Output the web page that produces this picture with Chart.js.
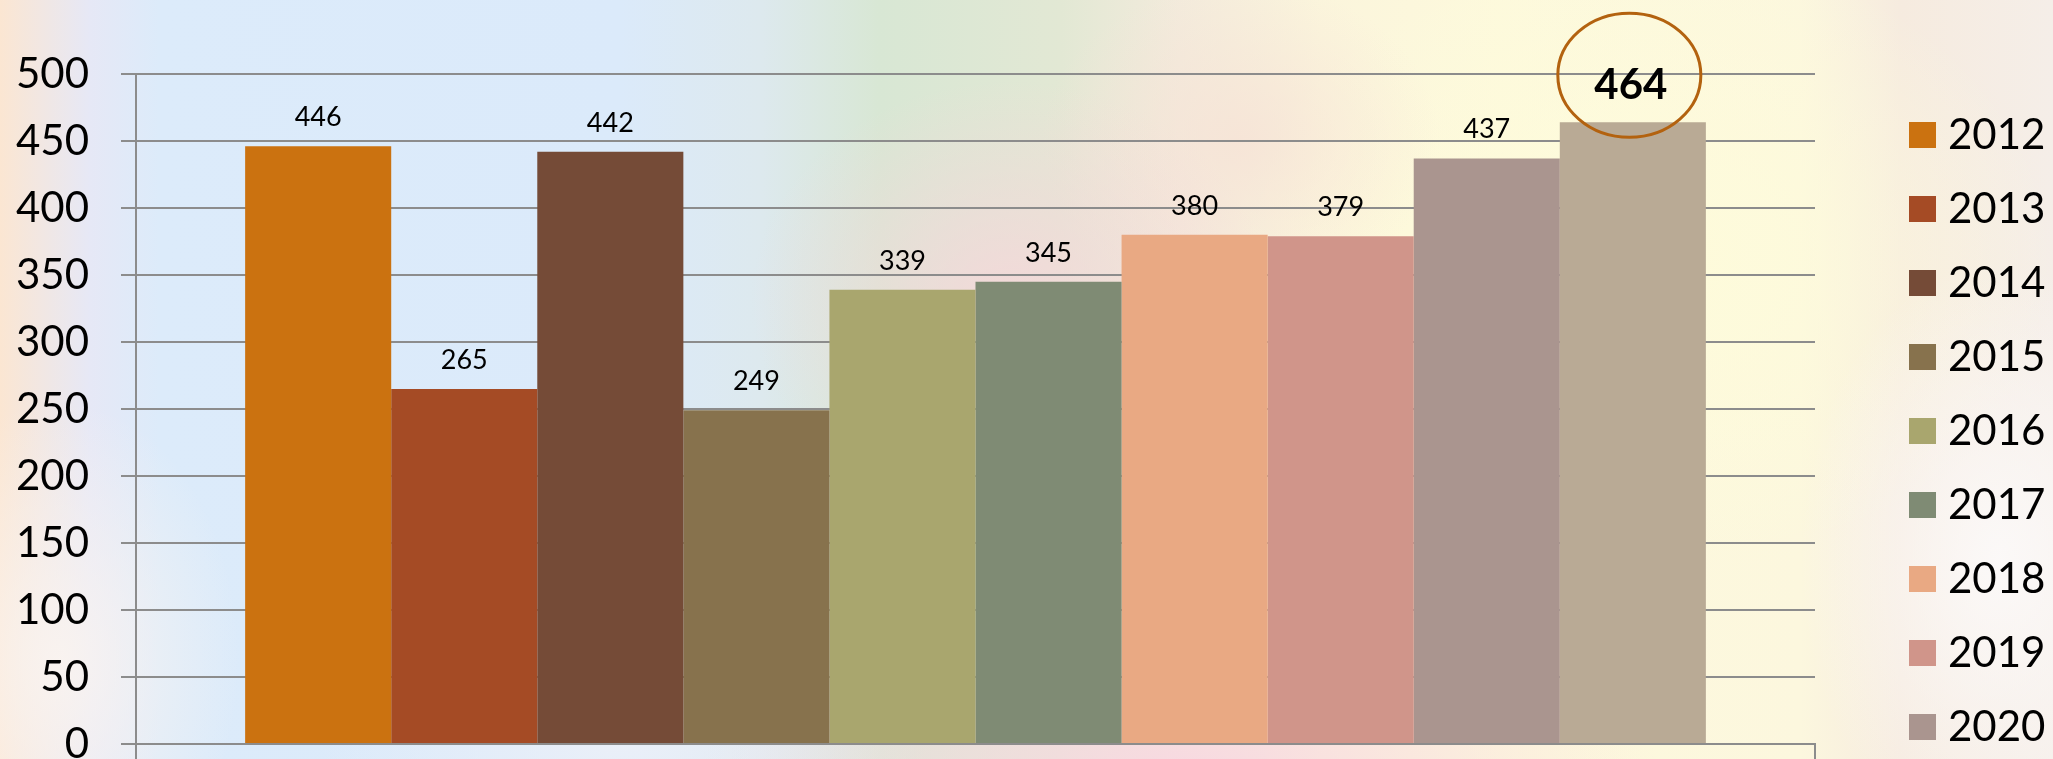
<!DOCTYPE html>
<html>
<head>
<meta charset="utf-8">
<script src="https://cdn.jsdelivr.net/npm/chart.js@4.4.1/dist/chart.umd.min.js"></script>
<style>
  html, body { margin: 0; padding: 0; width: 2053px; height: 759px; overflow: hidden; }
  body {
    position: relative;
    background-color: #f3efe9;
    background-image:
      radial-gradient(ellipse 480px 150px at 1180px 770px, rgba(248,216,225,0.95), rgba(248,216,225,0) 100%),
      radial-gradient(ellipse 260px 220px at 1010px 300px, rgba(246,214,218,0.85), rgba(246,214,218,0) 100%),
      radial-gradient(ellipse 200px 160px at 1240px 140px, rgba(246,226,214,0.8), rgba(246,226,214,0) 100%),
      radial-gradient(ellipse 200px 300px at 2000px 560px, rgba(252,250,250,0.9), rgba(252,250,250,0) 100%),
      radial-gradient(ellipse 180px 260px at 60px 660px, rgba(250,244,240,0.9), rgba(250,244,240,0) 100%),
      radial-gradient(ellipse 300px 180px at 620px 740px, rgba(236,240,248,0.9), rgba(236,240,248,0) 100%),
      radial-gradient(ellipse 420px 320px at 1640px 260px, rgba(254,252,218,0.9), rgba(254,252,218,0) 100%),
      linear-gradient(to right, #fbe6d2 0px, #e6e8f6 90px, #dcebfa 160px, #dbeafa 620px, #dde9ee 760px, #d8e7d4 880px, #e2e8d4 1060px, #f3ebdc 1180px, #fbf5dc 1320px, #fdf9dc 1500px, #fcf7de 1800px, #f6ebdf 1900px, #f5eee8 2053px);
  }
  #wrap { position: absolute; left: 0; top: 0; width: 2053px; height: 759px; }
</style>
</head>
<body>
<div id="wrap"><canvas id="c" width="2053" height="759"></canvas></div>
<script>
// ---- data ----
const years = ['2012', '2013', '2014', '2015', '2016', '2017', '2018', '2019', '2020', '2021'];
const values = [446, 265, 442, 249, 339, 345, 380, 379, 437, 464];
const colors = ['#CB7210', '#A54B25', '#754B37', '#87724D', '#A9A66E', '#7F8B74', '#E9A983', '#D0958A', '#AA958F', '#B9AA95'];
const yTicks = [0, 50, 100, 150, 200, 250, 300, 350, 400, 450, 500];
const highlightIndex = 9;

const FONT = 'Lato, "Open Sans", sans-serif';

const datasets = years.map((y, i) => ({
  label: y,
  data: [values[i]],
  backgroundColor: colors[i],
  borderWidth: 0,
  categoryPercentage: 0.87,
  barPercentage: 1.0
}));

const labelPlugin = {
  id: 'barLabels',
  afterDatasetsDraw(chart) {
    const ctx = chart.ctx;
    ctx.save();
    ctx.textAlign = 'center';
    ctx.textBaseline = 'alphabetic';
    ctx.fillStyle = '#000';
    chart.data.datasets.forEach((ds, i) => {
      const meta = chart.getDatasetMeta(i);
      const bar = meta.data[0];
      if (!bar) return;
      if (i === highlightIndex) {
        ctx.font = 'bold 42px ' + FONT;
        ctx.fillText(String(ds.data[0]), bar.x - 2, bar.y - 23);
        ctx.beginPath();
        ctx.ellipse(bar.x - 3.5, bar.y - 47, 71.5, 62, 0, 0, Math.PI * 2);
        ctx.strokeStyle = '#B3620F';
        ctx.lineWidth = 3;
        ctx.stroke();
      } else {
        ctx.font = '27px ' + FONT;
        ctx.fillText(String(ds.data[0]), bar.x, bar.y - 20);
      }
    });
    ctx.restore();
  }
};

const legendPlugin = {
  id: 'sideLegend',
  afterDraw(chart) {
    const ctx = chart.ctx;
    ctx.save();
    ctx.font = '42px ' + FONT;
    ctx.textAlign = 'left';
    ctx.textBaseline = 'alphabetic';
    years.forEach((y, i) => {
      const top = 122 + i * 74;
      ctx.fillStyle = colors[i];
      ctx.fillRect(1909, top, 27, 26);
      ctx.fillStyle = '#000';
      ctx.fillText(y, 1948, top + 27);
    });
    ctx.restore();
  }
};

new Chart(document.getElementById('c'), {
  type: 'bar',
  data: { labels: [''], datasets },
  options: {
    responsive: false,
    animation: false,
    devicePixelRatio: 1,
    layout: { padding: { left: 0, right: 238, top: 74, bottom: 0 } },
    plugins: {
      legend: { display: false },
      tooltip: { enabled: false }
    },
    scales: {
      x: {
        offset: true,
        grid: { display: true, offset: true, drawOnChartArea: false, drawTicks: true, tickLength: 15, color: '#8c8c8c', lineWidth: 2 },
        border: { display: true, color: '#8c8c8c', width: 2 },
        ticks: { display: false },
        afterFit(s) { s.height = 15; s.paddingLeft = 0; s.paddingRight = 0; s.paddingTop = 0; s.paddingBottom = 0; }
      },
      y: {
        min: 0,
        max: 500,
        afterBuildTicks(s) { s.ticks = yTicks.map(v => ({ value: v })); },
        grid: { color: '#8c8c8c', lineWidth: 2, tickLength: 15, drawTicks: true },
        border: { display: true, color: '#8c8c8c', width: 2 },
        ticks: { color: '#000', font: { family: FONT, size: 42 }, padding: 32 },
        afterFit(s) { s.width = 136; s.paddingTop = 0; s.paddingBottom = 0; s.paddingLeft = 0; s.paddingRight = 0; }
      }
    }
  },
  plugins: [labelPlugin, legendPlugin]
});
</script>
</body>
</html>
